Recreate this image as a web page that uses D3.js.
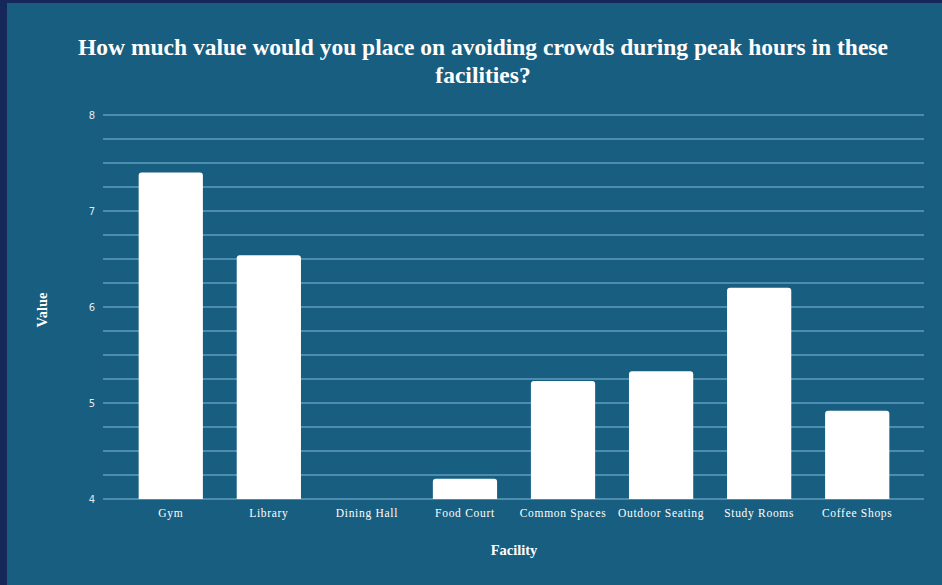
<!DOCTYPE html>
<html>
<head>
<meta charset="utf-8">
<script src="https://cdn.jsdelivr.net/npm/d3@7"></script>
<style>
  html, body { margin: 0; padding: 0; background: #16285a; }
  svg { display: block; }
</style>
</head>
<body>
<svg id="chart" width="942" height="585"></svg>
<script>
const categories = ["Gym", "Library", "Dining Hall", "Food Court", "Common Spaces", "Outdoor Seating", "Study Rooms", "Coffee Shops"];
const values = [7.40, 6.54, 4.0, 4.21, 5.23, 5.33, 6.20, 4.92];
const yTicks = [4, 5, 6, 7, 8];
const titleLines = ["How much value would you place on avoiding crowds during peak hours in these", "facilities?"];
const xTitle = "Facility";
const yTitle = "Value";

const svg = d3.select("#chart");
const W = 942, H = 585;

svg.append("rect").attr("x", 0).attr("y", 0).attr("width", W).attr("height", H).attr("fill", "#16285a");
svg.append("rect").attr("x", 7).attr("y", 3).attr("width", W - 7).attr("height", H - 3).attr("fill", "#185e80");

const gridLeft = 103, gridRight = 924;
const x = d3.scaleBand().domain(categories).range([122, 906]).paddingInner(0.345).paddingOuter(0.17);
const y = d3.scaleLinear().domain([4, 8]).range([499, 115]);

// minor + major gridlines
const gridVals = d3.range(4, 8.001, 0.25);
svg.append("g").selectAll("line").data(gridVals).join("line")
  .attr("x1", gridLeft).attr("x2", gridRight)
  .attr("y1", d => y(d)).attr("y2", d => y(d))
  .attr("stroke", "#80b9dc").attr("stroke-width", 1.2);

// y axis labels
const yAxis = d3.axisLeft(y).tickValues(yTicks).tickSize(0).tickPadding(0).tickFormat(d3.format("d"));
const yg = svg.append("g").attr("transform", `translate(${gridLeft - 8},0)`).call(yAxis);
yg.select(".domain").remove();
yg.selectAll("text").attr("fill", "#dfeaf2").attr("font-family", "DejaVu Sans, sans-serif").attr("font-size", 10);

// bars with rounded top corners
const r = 3;
function barPath(x0, w, yTop, yBase) {
  const h = yBase - yTop;
  if (h <= 0) return "";
  const rr = Math.min(r, h, w / 2);
  return `M${x0},${yBase}V${yTop + rr}Q${x0},${yTop} ${x0 + rr},${yTop}H${x0 + w - rr}Q${x0 + w},${yTop} ${x0 + w},${yTop + rr}V${yBase}Z`;
}
svg.append("g").selectAll("path").data(categories).join("path")
  .attr("d", (c, i) => barPath(x(c), x.bandwidth(), y(Math.max(values[i], 4)), y(4)))
  .attr("fill", "#ffffff");

// x axis labels
const xAxis = d3.axisBottom(x).tickSize(0).tickPadding(0);
const xg = svg.append("g").attr("transform", `translate(0,${y(4) + 10})`).call(xAxis);
xg.select(".domain").remove();
xg.selectAll("text").attr("fill", "#ffffff").attr("font-family", "Liberation Serif, serif")
  .attr("font-size", 11.5).attr("letter-spacing", "0.7px").attr("dy", "0.71em");

// title
svg.append("g").selectAll("text").data(titleLines).join("text")
  .attr("x", 483).attr("y", (d, i) => 55 + i * 28)
  .attr("text-anchor", "middle")
  .attr("fill", "#ffffff")
  .attr("font-family", "Liberation Serif, serif")
  .attr("font-weight", "bold")
  .attr("font-size", 23.5)
  .text(d => d);

// axis titles
svg.append("text").attr("x", 514).attr("y", 555).attr("text-anchor", "middle")
  .attr("fill", "#ffffff").attr("font-family", "Liberation Serif, serif").attr("font-weight", "bold").attr("font-size", 14.5)
  .text(xTitle);
svg.append("text").attr("transform", "translate(47,310) rotate(-90)").attr("text-anchor", "middle")
  .attr("fill", "#ffffff").attr("font-family", "Liberation Serif, serif").attr("font-weight", "bold").attr("font-size", 14.5)
  .text(yTitle);
</script>
</body>
</html>
